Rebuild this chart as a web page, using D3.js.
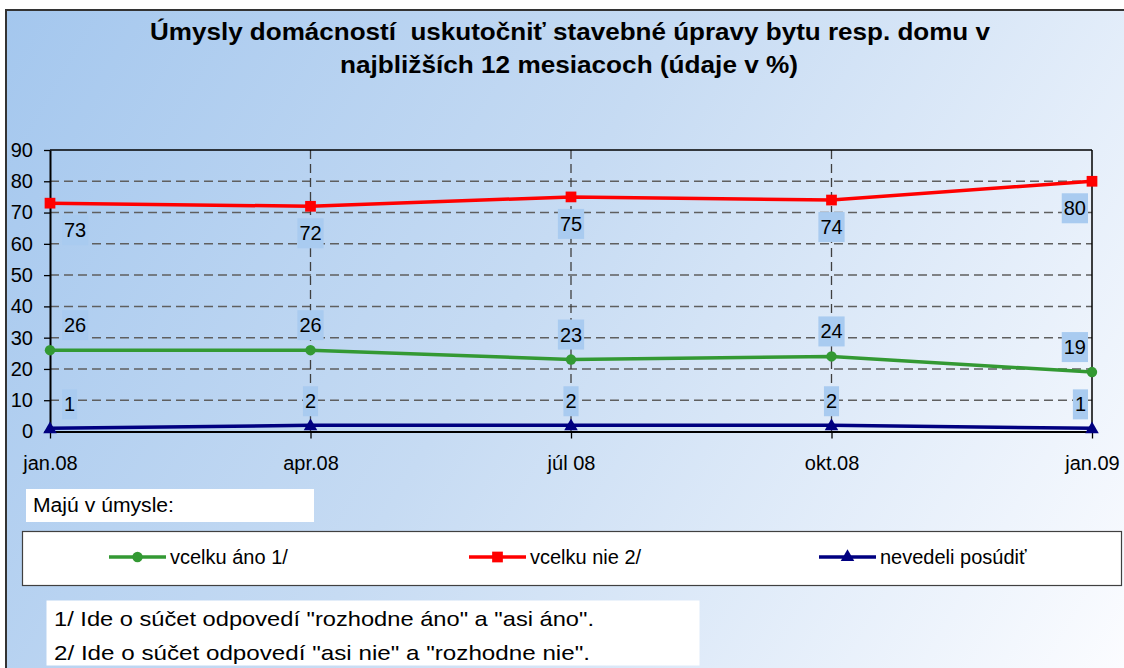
<!DOCTYPE html>
<html>
<head>
<meta charset="utf-8">
<script src="https://cdn.jsdelivr.net/npm/d3@7"></script>
<style>
  html, body { margin: 0; padding: 0; background: #ffffff; }
  svg { display: block; font-family: "Liberation Sans", Arial, sans-serif; }
  text.title { white-space: pre; }
</style>
</head>
<body>
<svg id="chart" width="1124" height="668"></svg>
<script>
// ---------- data ----------
const categories = ["jan.08", "apr.08", "júl 08", "okt.08", "jan.09"];
const vcelkuAno = [26, 26, 23, 24, 19];
const vcelkuNie = [73, 72, 75, 74, 80];
const nevedeli = [1, 2, 2, 2, 1];
const yTicks = [0, 10, 20, 30, 40, 50, 60, 70, 80, 90];
const seriesNames = ["vcelku áno 1/", "vcelku nie 2/", "nevedeli posúdiť"];
const titleLines = [
  "Úmysly domácností  uskutočniť stavebné úpravy bytu resp. domu v",
  "najbližších 12 mesiacoch (údaje v %)"
];
const legendTitle = "Majú v úmysle:";
const footnotes = [
  "1/ Ide o súčet odpovedí \"rozhodne áno\" a \"asi áno\".",
  "2/ Ide o súčet odpovedí \"asi nie\" a \"rozhodne nie\"."
];

// ---------- layout ----------
const svg = d3.select("#chart");
const plot = { left: 50, right: 1092, top: 150, bottom: 431.5 };

const defs = svg.append("defs");
const grad = defs.append("linearGradient")
  .attr("id", "bg").attr("gradientUnits", "userSpaceOnUse")
  .attr("x1", 6).attr("y1", 10).attr("x2", 1124).attr("y2", 668);
grad.append("stop").attr("offset", 0).attr("stop-color", "#a4c7ee");
grad.append("stop").attr("offset", 0.45).attr("stop-color", "#c6dbf3");
grad.append("stop").attr("offset", 1).attr("stop-color", "#fbfcff");

svg.append("rect")
  .attr("x", 6).attr("y", 10).attr("width", 1200).attr("height", 700)
  .attr("fill", "url(#bg)").attr("stroke", "#333").attr("stroke-width", 2);

// title
const titleW = [840, 458];
const titleX = [150, 340];
const titleY = [40, 73];
svg.selectAll("text.title").data(titleLines).join("text")
  .attr("class", "title")
  .attr("xml:space", "preserve")
  .attr("x", (d, i) => titleX[i]).attr("y", (d, i) => titleY[i])
  .attr("textLength", (d, i) => titleW[i])
  .attr("lengthAdjust", "spacingAndGlyphs")
  .attr("font-size", 23).attr("font-weight", "bold").attr("fill", "#000")
  .text(d => d);

// scales
const x = d3.scalePoint().domain(categories).range([plot.left, plot.right]);
const y = d3.scaleLinear().domain([0, 90]).range([plot.bottom, plot.top]);

// gridlines
const grid = svg.append("g");
grid.selectAll("line.h").data(yTicks.filter(v => v > 0 && v < 90)).join("line")
  .attr("x1", plot.left).attr("x2", plot.right)
  .attr("y1", d => y(d)).attr("y2", d => y(d))
  .attr("stroke", "#5f5f5f").attr("stroke-width", 1.5).attr("stroke-dasharray", "9,5");
grid.selectAll("line.v").data(categories.slice(1, -1)).join("line")
  .attr("x1", d => x(d)).attr("x2", d => x(d))
  .attr("y1", plot.top).attr("y2", plot.bottom)
  .attr("stroke", "#3f3f3f").attr("stroke-width", 1.3).attr("stroke-dasharray", "9,5");

// plot border top & right
svg.append("line").attr("x1", plot.left).attr("x2", plot.right)
  .attr("y1", plot.top).attr("y2", plot.top).attr("stroke", "#000").attr("stroke-width", 1.5);
svg.append("line").attr("x1", plot.right).attr("x2", plot.right)
  .attr("y1", plot.top).attr("y2", plot.bottom).attr("stroke", "#000").attr("stroke-width", 1.5);

// axes
const yAxis = svg.append("g").attr("transform", `translate(${plot.left},0)`)
  .call(d3.axisLeft(y).tickValues(yTicks).tickSize(6).tickPadding(11).tickSizeOuter(0));
const xAxis = svg.append("g").attr("transform", `translate(0,${plot.bottom})`)
  .call(d3.axisBottom(x).tickSize(7).tickPadding(17).tickSizeOuter(0));
[yAxis, xAxis].forEach(g => {
  g.select(".domain").attr("stroke", "#000").attr("stroke-width", 2);
  g.selectAll(".tick line").attr("stroke", "#000").attr("stroke-width", 1.3);
  g.selectAll(".tick text").attr("font-size", 20).attr("fill", "#000")
    .attr("font-family", "'Liberation Sans', Arial, sans-serif");
});

// series
const series = [
  { name: seriesNames[0], values: vcelkuAno, color: "#339933", symbol: d3.symbolCircle, size: 85, labelDy: -25 },
  { name: seriesNames[1], values: vcelkuNie, color: "#ff0000", symbol: d3.symbolSquare, size: 115, labelDy: 27 },
  { name: seriesNames[2], values: nevedeli, color: "#000080", symbol: d3.symbolTriangle, size: 80, labelDy: -24 }
];

const line = d3.line().x((d, i) => x(categories[i])).y(d => y(d));

series.forEach(s => {
  svg.append("path").datum(s.values)
    .attr("d", line).attr("fill", "none")
    .attr("stroke", s.color).attr("stroke-width", 3.5);
  svg.append("g").selectAll("path").data(s.values).join("path")
    .attr("d", d3.symbol().type(s.symbol).size(s.size))
    .attr("transform", (d, i) => `translate(${x(categories[i])},${y(d) + (s.symbol === d3.symbolTriangle ? 1 : 0)})`)
    .attr("fill", s.color);
});

// data labels
const labelLayer = svg.append("g");
series.forEach(s => {
  s.values.forEach((v, i) => {
    const g = labelLayer.append("g");
    const rect = g.append("rect");
    const t = g.append("text").attr("font-size", 20).attr("fill", "#000")
      .attr("text-anchor", "middle").attr("dy", "0.35em").text(v);
    const w = t.node().getComputedTextLength() + 4;
    const h = 30;
    let cx = x(categories[i]);
    let left = cx - w / 2;
    if (left < plot.left + 12) left = plot.left + 12;
    if (left + w > plot.right - 4) left = plot.right - 4 - w;
    const cy = y(v) + s.labelDy;
    rect.attr("x", left).attr("y", cy - h / 2).attr("width", w).attr("height", h)
      .attr("fill", "#a9cbf0");
    t.attr("x", left + w / 2).attr("y", cy);
  });
});

// legend title box
svg.append("rect").attr("x", 26).attr("y", 489).attr("width", 288).attr("height", 33).attr("fill", "#fff");
svg.append("text").attr("x", 33).attr("y", 512).attr("font-size", 20)
  .attr("textLength", 141).attr("lengthAdjust", "spacingAndGlyphs").text(legendTitle);

// legend
svg.append("rect").attr("x", 22.5).attr("y", 531.5).attr("width", 1099).attr("height", 54)
  .attr("fill", "#fff").attr("stroke", "#404040").attr("stroke-width", 1.2);
const legendX = [109, 469, 819];
const legendY = 557;
series.forEach((s, i) => {
  const lx = legendX[i];
  svg.append("line").attr("x1", lx).attr("x2", lx + 57).attr("y1", legendY).attr("y2", legendY)
    .attr("stroke", s.color).attr("stroke-width", 3.5);
  svg.append("path").attr("d", d3.symbol().type(s.symbol).size(s.size))
    .attr("transform", `translate(${lx + 28.5},${legendY})`).attr("fill", s.color);
  svg.append("text").attr("x", lx + 61).attr("y", legendY).attr("dy", "0.35em")
    .attr("font-size", 20).attr("fill", "#000").text(s.name);
});

// footnotes
svg.append("rect").attr("x", 46.5).attr("y", 600.5).attr("width", 653).attr("height", 65).attr("fill", "#fff");
const fnW = [540, 536];
svg.selectAll("text.fn").data(footnotes).join("text")
  .attr("class", "fn")
  .attr("x", 54).attr("y", (d, i) => 626 + i * 34)
  .attr("font-size", 21).attr("fill", "#000")
  .attr("textLength", (d, i) => fnW[i]).attr("lengthAdjust", "spacingAndGlyphs")
  .text(d => d);
</script>
</body>
</html>
